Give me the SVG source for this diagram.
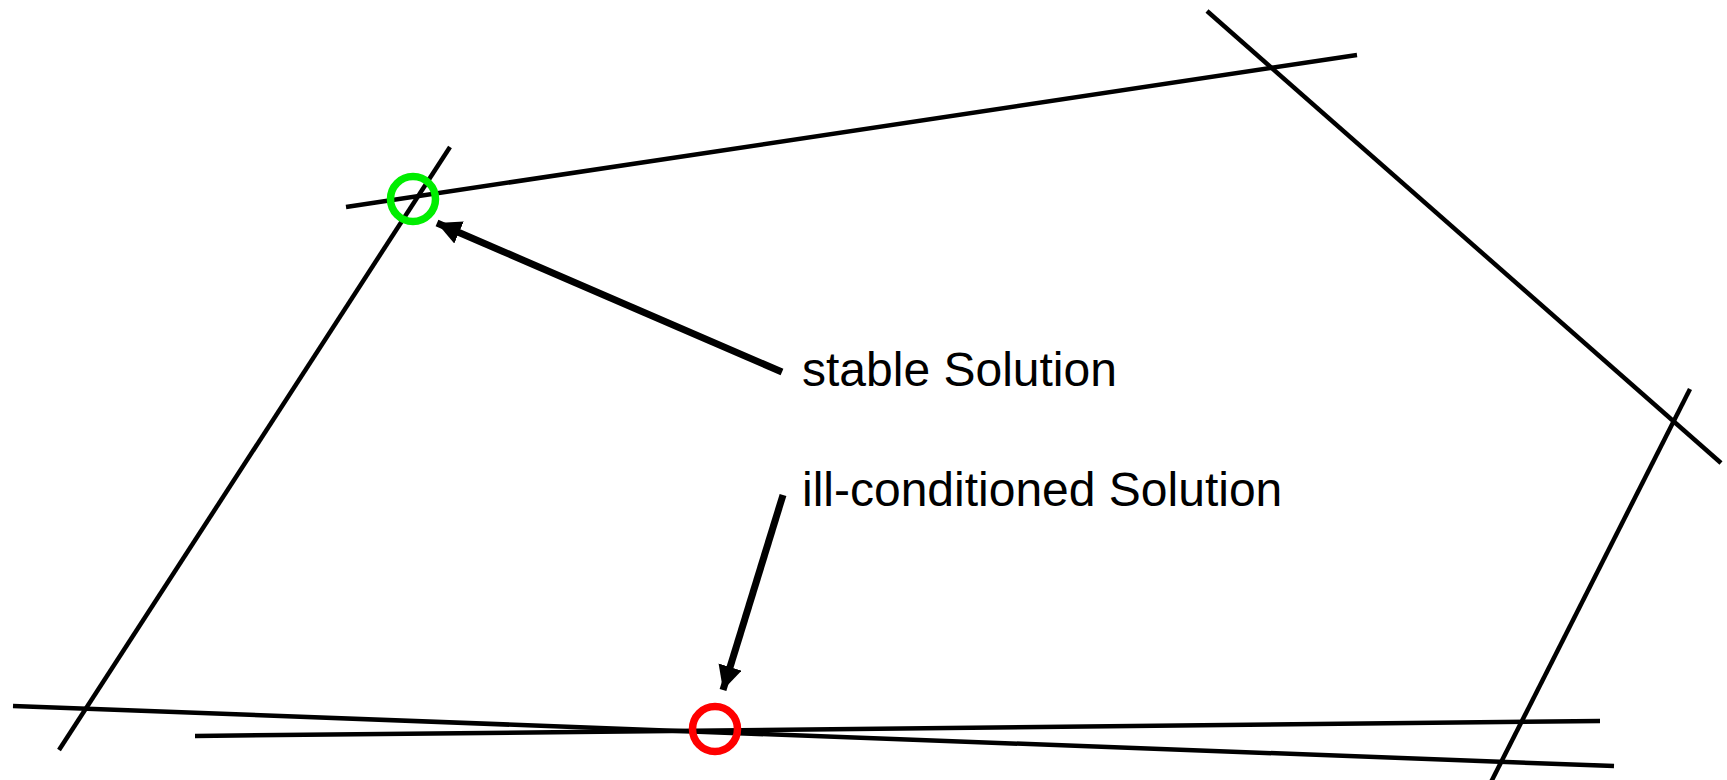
<svg xmlns="http://www.w3.org/2000/svg" width="1727" height="780" viewBox="0 0 1727 780">
  <style>
    .ln { stroke: #000; stroke-width: 4.5; fill: none; }
    .arr { stroke: #000; stroke-width: 7; fill: none; marker-end: url(#head); }
    .lbl { font-family: "Liberation Sans", Arial, sans-serif; font-size: 48px; fill: #000; }
    .pt { fill: none; stroke-width: 7.5; }
  </style>
  <defs>
    <marker id="head" markerUnits="userSpaceOnUse" markerWidth="28" markerHeight="28" refX="24" refY="12" orient="auto">
      <path d="M0,0 L24,12 L0,24 Z" fill="#000"/>
    </marker>
  </defs>
  <rect width="1727" height="780" fill="#fff"/>

  <!-- constraint lines -->
  <g id="lines">
    <line class="ln" x1="346" y1="207" x2="1357" y2="55"/>
    <line class="ln" x1="1207" y1="11" x2="1721" y2="463"/>
    <line class="ln" x1="1690" y1="389" x2="1487" y2="790"/>
    <line class="ln" x1="450" y1="147" x2="59" y2="750"/>
    <line class="ln" x1="13" y1="706" x2="1614" y2="766"/>
    <line class="ln" x1="195" y1="736" x2="1600" y2="721"/>
  </g>

  <!-- solution points -->
  <g id="stable-point">
    <circle class="pt" cx="413" cy="199" r="22.5" stroke="#00ee00"/>
  </g>
  <g id="ill-point">
    <circle class="pt" cx="715" cy="729" r="22.5" stroke="#ff0000"/>
  </g>

  <!-- labels -->
  <g id="stable-label">
    <text class="lbl" x="802" y="386">stable Solution</text>
  </g>
  <g id="ill-label">
    <text class="lbl" x="802" y="506">ill-conditioned Solution</text>
  </g>

  <!-- pointer arrows -->
  <g id="connectors">
    <line class="arr" x1="782" y1="372" x2="437" y2="223"/>
    <line class="arr" x1="783" y1="495" x2="723" y2="690"/>
  </g>
</svg>
